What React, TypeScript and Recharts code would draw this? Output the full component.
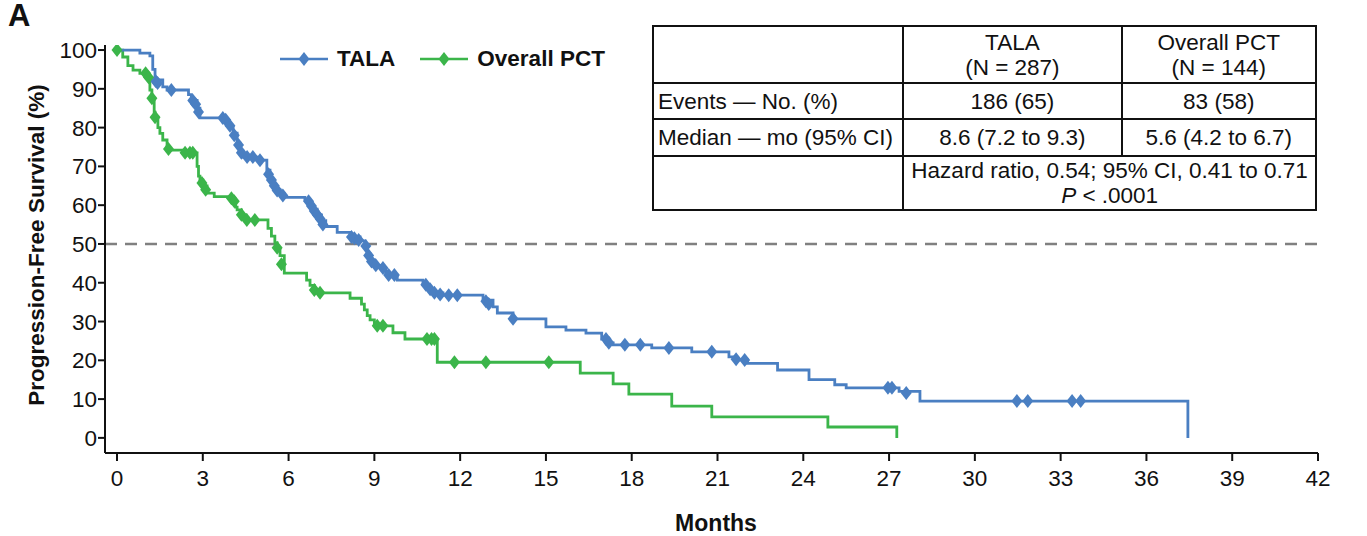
import React from 'react';
import { ComposedChart, Line, XAxis, YAxis, ReferenceLine } from 'recharts';

const BLUE = '#4a7fc2';
const GREEN = '#3bb54a';
const FONT = '"Liberation Sans", Arial, sans-serif';

// Kaplan-Meier step points (months, % progression-free)
const talaTimes = [0, 0.8, 1.15, 1.25, 1.33, 1.6, 1.75, 2.5, 2.6, 2.8, 2.9, 3.7, 3.9, 4.06, 4.2, 4.3, 4.4, 4.9, 5.24, 5.35, 5.45, 5.52, 5.7, 5.85, 6.57, 6.7, 6.85, 7.0, 7.15, 7.3, 7.7, 8.15, 8.5, 8.67, 8.75, 8.85, 9.0, 9.27, 9.4, 9.55, 9.8, 10.7, 10.9, 11.05, 11.4, 12.8, 13.15, 13.3, 13.85, 15.0, 15.7, 16.4, 16.95, 17.2, 17.35, 18.7, 20.1, 21.4, 21.6, 22.05, 23.1, 24.2, 25.1, 25.5, 27.35, 28.08, 37.45];
const talaSurv = [100, 99.2, 98.5, 95, 92.3, 90.5, 89.7, 88.5, 87, 85, 82.5, 81.5, 80, 78.6, 76, 74, 72.4, 71.6, 69, 67, 65.5, 64, 63, 62, 61.3, 60, 59, 57.5, 56, 54.5, 53, 51.8, 50.8, 49.7, 47.5, 45.9, 44.5, 43.8, 42.5, 41.5, 40.7, 39.5, 38.3, 37.4, 36.8, 35.5, 33.8, 32.2, 30.7, 28.6, 27.8, 27.0, 25.5, 24.5, 24.0, 23.2, 22.2, 20.9, 20.1, 19.2, 17.5, 15.0, 13.7, 12.9, 12.0, 9.5, 0];

const pctTimes = [0, 0.2, 0.38, 0.56, 0.8, 1.05, 1.15, 1.22, 1.3, 1.33, 1.43, 1.5, 1.6, 1.75, 1.8, 2.3, 2.8, 2.85, 2.9, 3.0, 3.15, 3.4, 4.06, 4.15, 4.2, 4.35, 4.5, 5.28, 5.4, 5.52, 5.6, 5.7, 5.85, 6.63, 6.75, 6.9, 7.05, 8.15, 8.55, 8.65, 8.75, 8.85, 9.0, 9.65, 10.07, 11.2, 16.2, 17.35, 17.9, 19.4, 20.8, 24.86, 27.27];
const pctSurv = [100, 98.2, 96, 94.8, 94, 93, 89.7, 87.6, 84, 82.7, 80, 78.5, 76.8, 75, 74.2, 73.5, 70, 67.5, 66.5, 65, 63.1, 62.2, 61, 59.5, 58.8, 57.5, 56.2, 54, 52, 50.3, 49, 47, 42.5, 40.7, 39.3, 38.1, 37.4, 36, 34.5, 33, 31.5, 30.4, 28.9, 27.1, 25.5, 19.5, 16.7, 13.9, 11.3, 8.2, 5.4, 2.8, 0];

// Censor marks
const talaCensorTimes = [1.35, 1.42, 1.9, 2.65, 2.75, 2.85, 3.7, 3.8, 3.95, 4.1, 4.25, 4.35, 4.55, 4.75, 5.0, 5.3, 5.4, 5.5, 5.6, 5.8, 6.7, 6.8, 6.9, 7.0, 7.1, 7.2, 8.2, 8.3, 8.45, 8.7, 8.8, 8.9, 9.05, 9.3, 9.5, 9.7, 10.8, 10.95, 11.1, 11.3, 11.6, 11.9, 12.9, 13.0, 13.85, 17.1, 17.2, 17.76, 18.3, 19.3, 20.8, 21.65, 21.95, 26.96, 27.1, 27.6, 31.47, 31.85, 33.4, 33.7];
const talaCensorSurv = [92, 91.5, 89.7, 87, 86, 84, 82.5, 82, 80.5, 78, 75.5, 73.5, 72.4, 72.4, 71.6, 68, 66.5, 65, 63.8, 62.5, 61, 59.8, 58.5, 57.5, 56.5, 55, 51.8, 51.5, 51, 49.5, 47, 45.5, 44.5, 43.8, 42, 42, 39.5, 38.3, 37.4, 37, 36.8, 36.8, 35.2, 34.5, 30.7, 25.5, 24.5, 24.0, 24.0, 23.2, 22.2, 20.3, 20.1, 12.9, 12.9, 11.6, 9.5, 9.5, 9.5, 9.5];

const pctCensorTimes = [0, 1.0, 1.1, 1.22, 1.33, 1.8, 2.38, 2.55, 2.65, 2.97, 3.1, 4.0, 4.1, 4.35, 4.54, 4.82, 5.6, 5.75, 6.9, 7.1, 9.1, 9.3, 10.84, 11.0, 11.1, 11.8, 12.9, 15.1];
const pctCensorSurv = [100, 94, 93, 87.6, 82.7, 74.5, 73.5, 73.5, 73.5, 65.7, 64, 61.8, 61, 57.5, 56.2, 56.2, 49, 44.8, 38.1, 37.4, 28.9, 28.9, 25.5, 25.5, 25.5, 19.5, 19.5, 19.5];

const xTicks = [0, 3, 6, 9, 12, 15, 18, 21, 24, 27, 30, 33, 36, 39, 42];
const yTicks = [0, 10, 20, 30, 40, 50, 60, 70, 80, 90, 100];

const zip = (ts: number[], ss: number[]) => ts.map((t, i) => ({ t, s: ss[i] }));
const talaData = zip(talaTimes, talaSurv);
const pctData = zip(pctTimes, pctSurv);
const talaCensor = zip(talaCensorTimes, talaCensorSurv);
const pctCensor = zip(pctCensorTimes, pctCensorSurv);

const diamond = (color: string) => (props: any) => {
  const { cx, cy, index } = props;
  if (cx == null || cy == null) return <g key={index} />;
  return (
    <path
      key={index}
      d={`M${cx},${cy - 7}L${cx + 5.5},${cy}L${cx},${cy + 7}L${cx - 5.5},${cy}Z`}
      fill={color}
      stroke="none"
    />
  );
};

const LegendItem = ({ color, label }: { color: string; label: string }) => (
  <div style={{ display: 'flex', alignItems: 'center' }}>
    <svg width={48} height={16} style={{ marginRight: 9 }}>
      <line x1={0} y1={8} x2={48} y2={8} stroke={color} strokeWidth={2.5} />
      <path d="M24,1L29.5,8L24,15L18.5,8Z" fill={color} />
    </svg>
    <span style={{ fontWeight: 'bold', fontSize: 22.5, fontFamily: FONT, color: '#111' }}>{label}</span>
  </div>
);

const cell: React.CSSProperties = {
  border: '2px solid #111',
  padding: 0,
  textAlign: 'center',
  verticalAlign: 'middle',
  lineHeight: '25px',
};
const labelCell: React.CSSProperties = { ...cell, textAlign: 'left', paddingLeft: 4 };

export default function App() {
  return (
    <div style={{ position: 'absolute', left: 0, top: 0, width: 1367, height: 536, background: '#fff', fontFamily: FONT }}>
      <ComposedChart width={1367} height={536} margin={{ top: 45, right: 49, left: 0, bottom: 0 }}>
        <XAxis
          type="number"
          dataKey="t"
          domain={[-0.42, 42]}
          ticks={xTicks}
          allowDataOverflow
          height={83}
          axisLine={{ stroke: '#111', strokeWidth: 2 }}
          tickLine={{ stroke: '#111', strokeWidth: 2 }}
          tickSize={8}
          tickMargin={9}
          tick={{ fill: '#111', fontSize: 22.5, fontFamily: FONT }}
        />
        <YAxis
          type="number"
          dataKey="s"
          domain={[-3.9, 101.3]}
          ticks={yTicks}
          allowDataOverflow
          width={105}
          axisLine={{ stroke: '#111', strokeWidth: 2 }}
          tickLine={{ stroke: '#111', strokeWidth: 2 }}
          tickSize={7}
          tickMargin={1}
          tick={{ fill: '#111', fontSize: 22.5, fontFamily: FONT }}
        />
        <ReferenceLine y={50} stroke="#808080" strokeWidth={2.5} strokeDasharray="12 8" />
        <Line data={pctData} dataKey="s" type="stepAfter" stroke={GREEN} strokeWidth={2.8} dot={false} isAnimationActive={false} />
        <Line data={talaData} dataKey="s" type="stepAfter" stroke={BLUE} strokeWidth={2.8} dot={false} isAnimationActive={false} />
        <Line data={talaCensor} dataKey="s" stroke="none" dot={diamond(BLUE)} activeDot={false} isAnimationActive={false} />
        <Line data={pctCensor} dataKey="s" stroke="none" dot={diamond(GREEN)} activeDot={false} isAnimationActive={false} />
      </ComposedChart>

      <div style={{ position: 'absolute', left: 8, top: -2, fontSize: 31, fontWeight: 'bold', color: '#111' }}>A</div>

      <div
        style={{
          position: 'absolute',
          left: 37,
          top: 245,
          transform: 'translate(-50%, -50%) rotate(-90deg)',
          whiteSpace: 'nowrap',
          fontSize: 22.5,
          fontWeight: 'bold',
          color: '#111',
        }}
      >
        Progression-Free Survival (%)
      </div>

      <div
        style={{
          position: 'absolute',
          left: 716,
          top: 523,
          transform: 'translate(-50%, -50%)',
          fontSize: 23,
          fontWeight: 'bold',
          color: '#111',
        }}
      >
        Months
      </div>

      <div style={{ position: 'absolute', left: 280, top: 46, display: 'flex', alignItems: 'center' }}>
        <LegendItem color={BLUE} label="TALA" />
        <div style={{ width: 25 }} />
        <LegendItem color={GREEN} label="Overall PCT" />
      </div>

      <table
        style={{
          position: 'absolute',
          left: 652,
          top: 25,
          width: 665,
          height: 184,
          borderCollapse: 'collapse',
          fontSize: 22.5,
          color: '#111',
          fontFamily: FONT,
        }}
      >
        <colgroup>
          <col style={{ width: 251 }} />
          <col style={{ width: 219 }} />
          <col style={{ width: 195 }} />
        </colgroup>
        <tbody>
          <tr style={{ height: 57 }}>
            <td style={cell}></td>
            <td style={cell}>TALA<br />(N = 287)</td>
            <td style={cell}>Overall PCT<br />(N = 144)</td>
          </tr>
          <tr style={{ height: 36 }}>
            <td style={labelCell}>Events — No. (%)</td>
            <td style={cell}>186 (65)</td>
            <td style={cell}>83 (58)</td>
          </tr>
          <tr style={{ height: 37 }}>
            <td style={labelCell}>Median — mo (95% CI)</td>
            <td style={cell}>8.6 (7.2 to 9.3)</td>
            <td style={cell}>5.6 (4.2 to 6.7)</td>
          </tr>
          <tr style={{ height: 54 }}>
            <td style={cell}></td>
            <td style={cell} colSpan={2}>
              Hazard ratio, 0.54; 95% CI, 0.41 to 0.71<br />
              <i>P</i> &lt; .0001
            </td>
          </tr>
        </tbody>
      </table>
    </div>
  );
}
